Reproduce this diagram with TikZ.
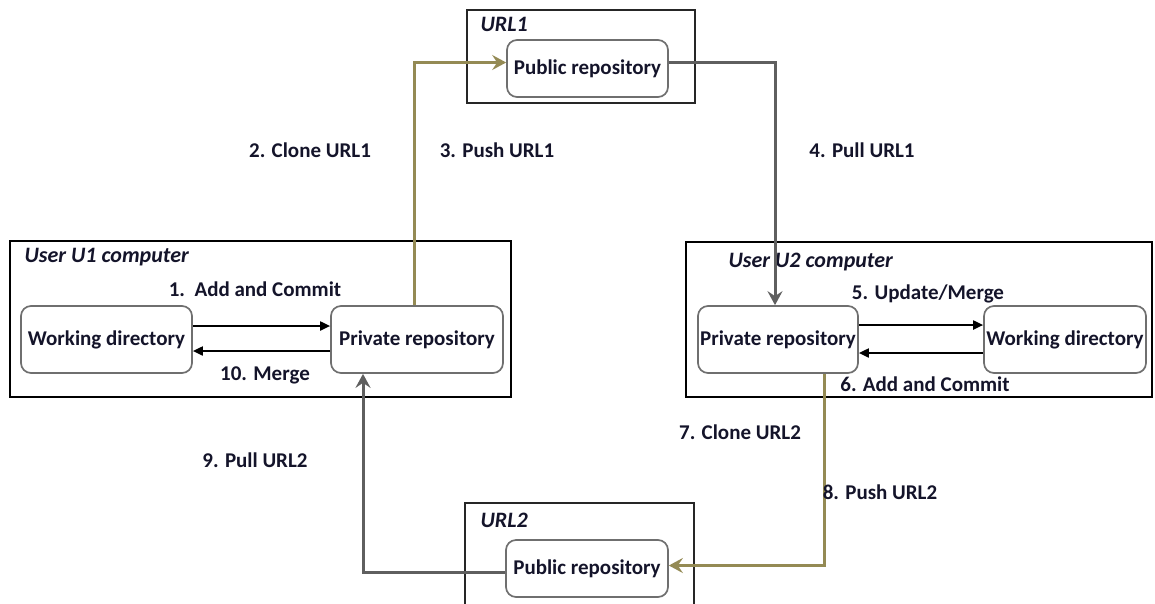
\documentclass[tikz,border=0pt]{standalone}
\usepackage{fontspec}
\setmainfont{Carlito}
\usetikzlibrary{arrows.meta,calc}
\definecolor{olivec}{HTML}{948A54}
\definecolor{grayc}{HTML}{5F5F5F}
\definecolor{txt}{HTML}{14142A}
\begin{document}
\begin{tikzpicture}[x=1pt,y=-1pt,
  every node/.style={font=\fontsize{21}{24}\selectfont\bfseries, text=txt},
  repo/.style={draw=grayc!90, line width=1.7pt, rounded corners=10pt, inner sep=0pt},
  outer/.style={draw=black!85, line width=1.3pt, inner sep=0pt},
  comp/.style={draw=black, line width=2.8pt, inner sep=0pt},
  ttl/.style={anchor=west, font=\fontsize{22}{24}\selectfont\bfseries\itshape},
  olivearr/.style={draw=olivec, line width=3pt, -{Stealth[length=14pt,width=15pt,inset=5pt]}},
  grayarr/.style={draw=grayc, line width=3pt, -{Stealth[length=14pt,width=15pt,inset=5pt]}},
  blkarr/.style={draw=black, line width=1.9pt, -{Triangle[length=10pt,width=9pt]}},
  lbl/.style={}]
\useasboundingbox (0,0) rectangle (1155,603);
% outer boxes
\node[outer, minimum width=228pt, minimum height=93pt] (url1) at (581,56.5) {};
\node[comp, minimum width=501pt, minimum height=156pt] (u1) at (260.5,319) {};
\node[comp, minimum width=466pt, minimum height=155pt] (u2) at (919,319.5) {};
\draw[outer] (465,605) -- (465,503) -- (694,503) -- (694,605);
\coordinate (url2) at (579.5,503);
% titles
\node[ttl] (t1) at (477,24) {URL1};
\node[ttl] (t2) at (21,257) {User U1 computer};
\node[ttl] (t3) at (725,262) {User U2 computer};
\node[ttl] (t4) at (477,520) {URL2};
% repos
\node[repo, minimum width=161pt, minimum height=57pt] (pub1) at (587.5,68.5) {Public repository};
\node[repo, minimum width=171pt, minimum height=67pt] (wd1) at (106.5,339.5) {Working directory};
\node[repo, minimum width=172pt, minimum height=67pt] (pr1) at (417,339.5) {Private repository};
\node[repo, minimum width=160pt, minimum height=67pt] (pr2) at (778,339.5) {Private repository};
\node[repo, minimum width=162pt, minimum height=67pt] (wd2) at (1065,339.5) {Working directory};
\node[repo, minimum width=162pt, minimum height=57pt] (pub2) at (587,568.5) {Public repository};
% connectors
\draw[olivearr] ([xshift=-3pt]pr1.north) |- ([yshift=6pt]pub1.west);
\draw[grayarr] ([yshift=6pt]pub1.east) -| ([xshift=-3pt]pr2.north);
\draw[olivearr] ([xshift=46pt]pr2.south) |- ([yshift=3pt]pub2.east);
\draw[grayarr] ([yshift=-4pt]pub2.west) -| ([xshift=-54pt]pr1.south);
\draw[blkarr] ([yshift=13.5pt]wd1.east) -- ([yshift=13.5pt]pr1.west);
\draw[blkarr] ([yshift=-11.5pt]pr1.west) -- ([yshift=-11.5pt]wd1.east);
\draw[blkarr] ([yshift=14.5pt]pr2.east) -- ([yshift=14.5pt]wd2.west);
\draw[blkarr] ([yshift=-13.5pt]wd2.west) -- ([yshift=-13.5pt]pr2.east);
% labels
\node[lbl] (l1) at (255,289) {1.\ \ Add and Commit};
\node[lbl] (l10) at (265,375) {10. Merge};
\node[lbl] (l2) at (310,150) {2. Clone URL1};
\node[lbl] (l3) at (497,150) {3. Push URL1};
\node[lbl] (l4) at (862,150) {4. Pull URL1};
\node[lbl] (l5) at (928,294) {5. Update/Merge};
\node[lbl] (l6) at (925,384) {6. Add and Commit};
\node[lbl] (l7) at (740,432) {7. Clone URL2};
\node[lbl] (l8) at (880,492) {8. Push URL2};
\node[lbl] (l9) at (255,460) {9. Pull URL2};
\end{tikzpicture}
\end{document}
